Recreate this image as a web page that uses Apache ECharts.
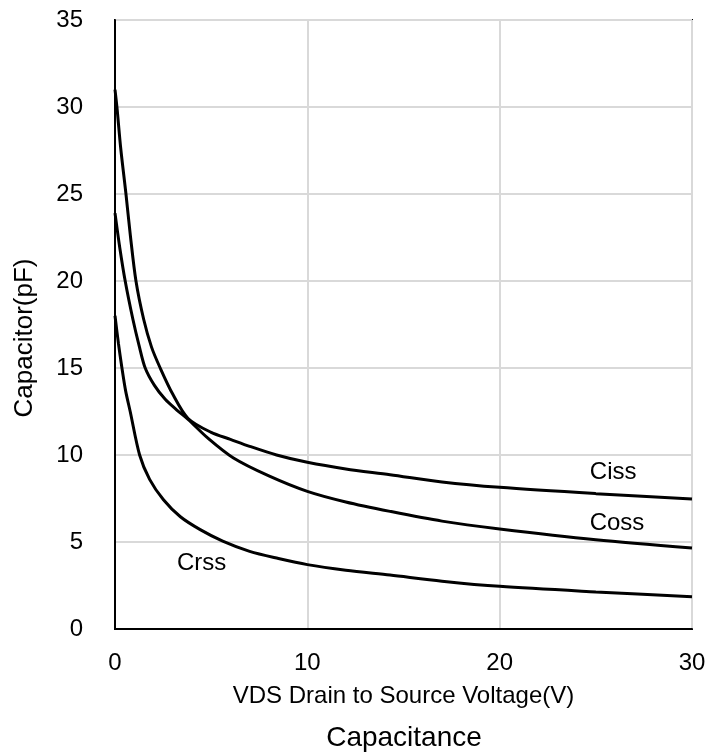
<!DOCTYPE html>
<html>
<head>
<meta charset="utf-8">
<script src="https://cdn.jsdelivr.net/npm/echarts@6/dist/echarts.min.js"></script>
<style>
html,body{margin:0;padding:0;background:#fff;}
#chart{width:726px;height:756px;}
</style>
</head>
<body>
<div id="chart"></div>
<script>
// Data (VDS in V, capacitance in pF)
const cissData = [[0,31],[0.1,30],[0.3,27.6],[0.57,25],[0.8,22.6],[1.09,20],[1.49,17.8],[1.9,16.2],[2.35,15],[3,13.5],[3.8,12.1],[5,11.3],[6,10.9],[7,10.5],[8.4,10],[10,9.58],[12,9.2],[14.3,8.87],[17,8.45],[20,8.14],[25,7.78],[30,7.47]];
const cossData = [[0,23.9],[0.25,21.9],[0.53,20],[0.93,17.8],[1.25,16.3],[1.57,15],[2.05,14],[2.61,13.2],[3.2,12.6],[3.8,12.05],[4.8,11],[6.16,9.83],[8,8.8],[10,7.91],[12,7.3],[14.3,6.76],[17,6.2],[20,5.75],[25,5.13],[30,4.66]];
const crssData = [[0,18],[0.18,16.4],[0.36,15],[0.55,13.7],[0.79,12.5],[1.28,10],[1.8,8.6],[2.52,7.43],[3.4,6.45],[4.43,5.71],[5.6,5.05],[7,4.46],[8.5,4.05],[10,3.7],[12,3.38],[14.3,3.1],[17,2.75],[20,2.45],[25,2.13],[30,1.85]];
const seriesNames = ['Ciss','Coss','Crss'];
const labelPos = [[25.9,9.0],[26.1,6.05],[4.5,3.75]];
const xTicks = [0,10,20,30];
const yTicks = [0,5,10,15,20,25,30,35];
const titleText = 'Capacitance';
const xName = 'VDS Drain to Source Voltage(V)';
const yName = 'Capacitor(pF)';

const FONT = 'Liberation Sans, Arial, sans-serif';
const chart = echarts.init(document.getElementById('chart'));
const lineSeries = [cissData, cossData, crssData].map((d, i) => ({
  name: seriesNames[i], type: 'line', data: d, smooth: 0.3,
  symbol: 'none', lineStyle: {color: '#000', width: 3}, z: 3
}));
const labelSeries = {
  type: 'scatter', symbolSize: 0, silent: true,
  itemStyle: {opacity: 1},
  data: labelPos.map((p, i) => ({value: p, name: seriesNames[i]})),
  label: {show: true, position: 'inside', formatter: p => p.name, color: '#000', opacity: 1, fontSize: 24, fontFamily: FONT}
};
chart.setOption({
  animation: false,
  backgroundColor: '#fff',
  title: {text: titleText, left: 399, textAlign: 'center', top: 719,
    textStyle: {fontSize: 28, fontWeight: 'normal', color: '#000', fontFamily: FONT}},
  grid: {left: 115, right: 34, top: 20, bottom: 127, show: true, borderColor: '#000', borderWidth: 2},
  xAxis: {
    type: 'value', min: xTicks[0], max: xTicks[xTicks.length-1], interval: 10,
    name: xName, nameLocation: 'middle', nameGap: 55,
    nameTextStyle: {fontSize: 24, color: '#000', fontFamily: FONT},
    axisLine: {show: true, lineStyle: {color: '#000', width: 2}},
    axisTick: {show: false},
    axisLabel: {fontSize: 24, color: '#000', margin: 22, fontFamily: FONT},
    splitLine: {show: true, lineStyle: {color: '#d9d9d9', width: 2}}
  },
  yAxis: {
    type: 'value', min: yTicks[0], max: yTicks[yTicks.length-1], interval: 5,
    name: yName, nameLocation: 'middle', nameGap: 77,
    nameTextStyle: {fontSize: 26, color: '#000', fontFamily: FONT, padding: [0, 27, 0, 0]},
    axisLine: {show: true, lineStyle: {color: '#000', width: 2}},
    axisTick: {show: false},
    axisLabel: {fontSize: 24, color: '#000', margin: 32, fontFamily: FONT},
    splitLine: {show: true, lineStyle: {color: '#d9d9d9', width: 2}}
  },
  series: [...lineSeries, labelSeries]
});
</script>
</body>
</html>
